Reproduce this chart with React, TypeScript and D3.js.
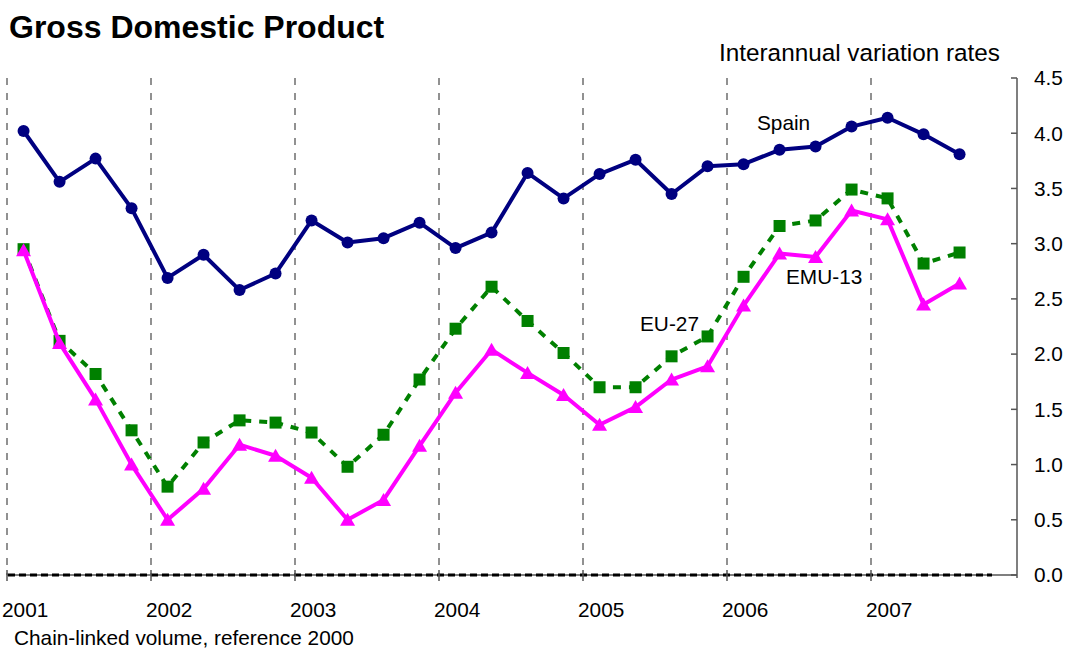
import React from 'react';
import * as d3 from 'd3';

// quarterly GDP growth, 2001 Q1 .. 2007 Q3
const years = ['2001', '2002', '2003', '2004', '2005', '2006', '2007'];
const spain = [4.02, 3.56, 3.77, 3.32, 2.69, 2.90, 2.58, 2.73, 3.21, 3.01, 3.05, 3.19, 2.96, 3.10, 3.64, 3.41, 3.63, 3.76, 3.45, 3.70, 3.72, 3.85, 3.88, 4.06, 4.14, 3.99, 3.81];
const eu27 = [2.95, 2.12, 1.82, 1.31, 0.80, 1.20, 1.40, 1.38, 1.29, 0.98, 1.27, 1.77, 2.23, 2.61, 2.30, 2.01, 1.70, 1.70, 1.98, 2.16, 2.70, 3.16, 3.21, 3.49, 3.41, 2.82, 2.92];
const emu13 = [2.94, 2.10, 1.59, 1.00, 0.50, 0.78, 1.18, 1.08, 0.88, 0.50, 0.68, 1.17, 1.65, 2.04, 1.83, 1.63, 1.36, 1.52, 1.77, 1.89, 2.44, 2.91, 2.88, 3.30, 3.22, 2.45, 2.64];
const yTicks = [0, 0.5, 1, 1.5, 2, 2.5, 3, 3.5, 4, 4.5];

const font = '"Liberation Sans", Arial, sans-serif';
const fs = 20.8;

export default function App() {
  const x = d3.scaleLinear().domain([0, 28]).range([7, 1015]);
  const y = d3.scaleLinear().domain([0, 4.5]).range([575, 78]);
  const px = (i: number) => x(i + 0.46);

  const line = d3.line<number>().x((d, i) => px(i)).y((d) => y(d));

  const tri = (cx: number, cy: number) =>
    `M${cx},${cy - 7}L${cx + 7.5},${cy + 6}L${cx - 7.5},${cy + 6}Z`;

  return (
    <svg width={1066} height={650} style={{ position: 'absolute', left: 0, top: 0, background: '#fff' }} fontFamily={font}>
      <text x={9} y={38} fontSize={32} fontWeight="bold">Gross Domestic Product</text>
      <text x={719} y={61} fontSize={24.3}>Interannual variation rates</text>

      {/* vertical year gridlines */}
      {years.map((yr, k) => (
        <line key={yr} x1={x(k * 4)} x2={x(k * 4)} y1={y(4.5)} y2={y(0)} stroke="#6e6e6e" strokeWidth={1.5} strokeDasharray="7,8" />
      ))}

      {/* x axis */}
      <line x1={x(0)} x2={1017} y1={y(0)} y2={y(0)} stroke="#555" strokeWidth={1.5} />
      <line x1={x(0) + 1} x2={992} y1={y(0)} y2={y(0)} stroke="#000" strokeWidth={3} strokeDasharray="7,4" />
      {years.map((yr, k) => (
        <g key={'t' + yr}>
          <line x1={x(k * 4)} x2={x(k * 4)} y1={y(0) - 5} y2={y(0) + 6} stroke="#555" strokeWidth={1.5} />
          <text x={x(k * 4) - 5} y={617} fontSize={fs}>{yr}</text>
        </g>
      ))}

      {/* y axis on the right */}
      <line x1={1017} x2={1017} y1={y(4.5)} y2={y(0) + 3} stroke="#555" strokeWidth={1.5} />
      {yTicks.map((t) => (
        <g key={'y' + t}>
          <line x1={1011} x2={1017} y1={y(t)} y2={y(t)} stroke="#555" strokeWidth={1.5} />
          <text x={1034} y={y(t)} dy="0.35em" fontSize={fs}>{t.toFixed(1)}</text>
        </g>
      ))}

      {/* EU-27 */}
      <path d={line(eu27) || ''} fill="none" stroke="#008000" strokeWidth={4} strokeDasharray="8,8" />
      {eu27.map((v, i) => (
        <rect key={'e' + i} x={px(i) - 6} y={y(v) - 6} width={12} height={12} fill="#008000" />
      ))}

      {/* EMU-13 */}
      <path d={line(emu13) || ''} fill="none" stroke="#ff00ff" strokeWidth={4} strokeLinejoin="round" />
      {emu13.map((v, i) => (
        <path key={'m' + i} d={tri(px(i), y(v))} fill="#ff00ff" />
      ))}

      {/* Spain */}
      <path d={line(spain) || ''} fill="none" stroke="#000080" strokeWidth={4} strokeLinejoin="round" />
      {spain.map((v, i) => (
        <circle key={'s' + i} cx={px(i)} cy={y(v)} r={6} fill="#000080" />
      ))}

      <text x={757} y={130} fontSize={fs}>Spain</text>
      <text x={640} y={331} fontSize={fs}>EU-27</text>
      <text x={786} y={284} fontSize={fs}>EMU-13</text>

      <text x={14} y={645} fontSize={fs}>Chain-linked volume, reference 2000</text>
    </svg>
  );
}
